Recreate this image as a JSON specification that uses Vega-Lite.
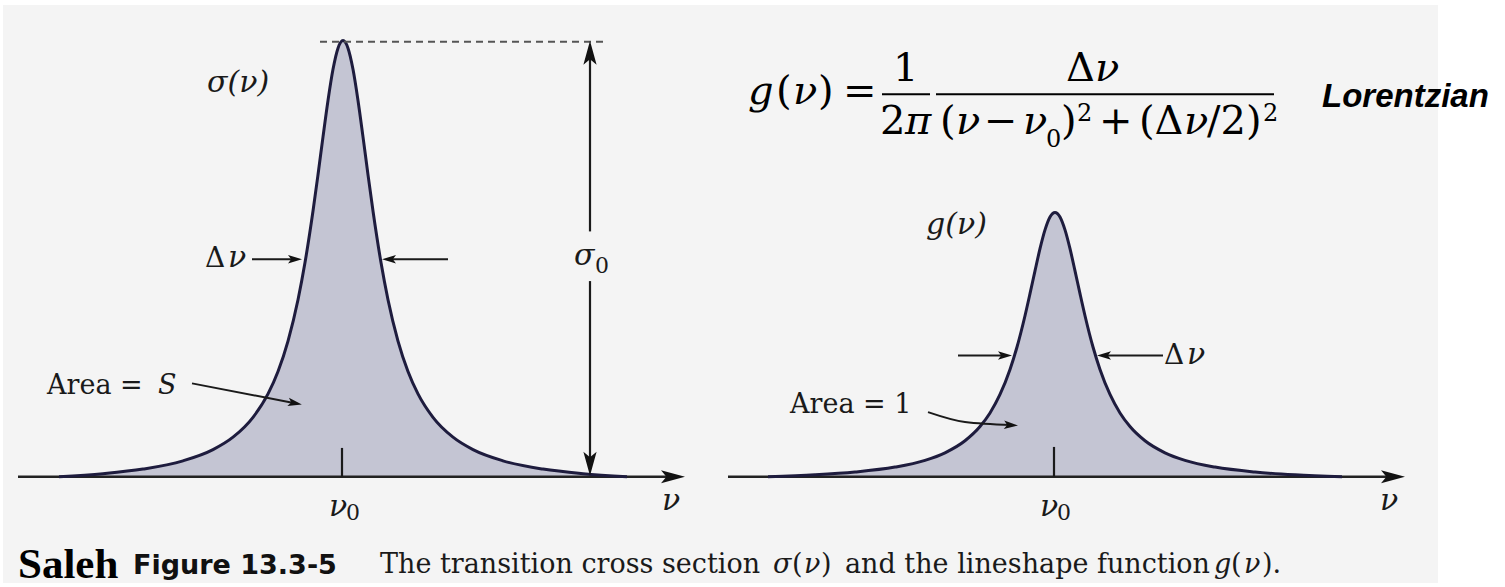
{
  "$schema": "https://vega.github.io/schema/vega-lite/v6.json",
  "width": 1505,
  "height": 587,
  "autosize": {"type": "fit", "contains": "padding"},
  "padding": 0,
  "background": "#ffffff",
  "config": {"view": {"stroke": null}},
  "datasets": {
    "panel": [{"x": 3, "x2": 1438, "y": 475, "y2": -107}],
    "curves": [
      {"curve": "sigma", "x": 59, "y": 0},
      {"curve": "sigma", "x": 103, "y": 3.1},
      {"curve": "sigma", "x": 143, "y": 7.7},
      {"curve": "sigma", "x": 183, "y": 16.0},
      {"curve": "sigma", "x": 213, "y": 27.3},
      {"curve": "sigma", "x": 233, "y": 39.8},
      {"curve": "sigma", "x": 253, "y": 59.8},
      {"curve": "sigma", "x": 268, "y": 83.4},
      {"curve": "sigma", "x": 278, "y": 106.0},
      {"curve": "sigma", "x": 288, "y": 136.6},
      {"curve": "sigma", "x": 298, "y": 178.2},
      {"curve": "sigma", "x": 305, "y": 215.6},
      {"curve": "sigma", "x": 313, "y": 267.5},
      {"curve": "sigma", "x": 318, "y": 304.1},
      {"curve": "sigma", "x": 323, "y": 342.2},
      {"curve": "sigma", "x": 328, "y": 378.9},
      {"curve": "sigma", "x": 333, "y": 410.2},
      {"curve": "sigma", "x": 338, "y": 431.5},
      {"curve": "sigma", "x": 343, "y": 439.1},
      {"curve": "sigma", "x": 348, "y": 431.5},
      {"curve": "sigma", "x": 353, "y": 410.2},
      {"curve": "sigma", "x": 358, "y": 378.9},
      {"curve": "sigma", "x": 363, "y": 342.2},
      {"curve": "sigma", "x": 368, "y": 304.1},
      {"curve": "sigma", "x": 373, "y": 267.5},
      {"curve": "sigma", "x": 381, "y": 215.6},
      {"curve": "sigma", "x": 388, "y": 178.2},
      {"curve": "sigma", "x": 398, "y": 136.6},
      {"curve": "sigma", "x": 408, "y": 106.0},
      {"curve": "sigma", "x": 418, "y": 83.4},
      {"curve": "sigma", "x": 433, "y": 59.8},
      {"curve": "sigma", "x": 453, "y": 39.8},
      {"curve": "sigma", "x": 473, "y": 27.3},
      {"curve": "sigma", "x": 503, "y": 16.0},
      {"curve": "sigma", "x": 543, "y": 7.7},
      {"curve": "sigma", "x": 583, "y": 3.1},
      {"curve": "sigma", "x": 627, "y": 0},
      {"curve": "g", "x": 768, "y": 0},
      {"curve": "g", "x": 815, "y": 1.9},
      {"curve": "g", "x": 855, "y": 4.7},
      {"curve": "g", "x": 895, "y": 9.7},
      {"curve": "g", "x": 925, "y": 16.5},
      {"curve": "g", "x": 945, "y": 24.1},
      {"curve": "g", "x": 965, "y": 36.2},
      {"curve": "g", "x": 980, "y": 50.5},
      {"curve": "g", "x": 990, "y": 64.2},
      {"curve": "g", "x": 1000, "y": 82.8},
      {"curve": "g", "x": 1010, "y": 108.0},
      {"curve": "g", "x": 1017, "y": 130.6},
      {"curve": "g", "x": 1025, "y": 162.1},
      {"curve": "g", "x": 1030, "y": 184.3},
      {"curve": "g", "x": 1035, "y": 207.3},
      {"curve": "g", "x": 1040, "y": 229.6},
      {"curve": "g", "x": 1045, "y": 248.5},
      {"curve": "g", "x": 1050, "y": 261.5},
      {"curve": "g", "x": 1055, "y": 266.0},
      {"curve": "g", "x": 1060, "y": 261.5},
      {"curve": "g", "x": 1065, "y": 248.5},
      {"curve": "g", "x": 1070, "y": 229.6},
      {"curve": "g", "x": 1075, "y": 207.3},
      {"curve": "g", "x": 1080, "y": 184.3},
      {"curve": "g", "x": 1085, "y": 162.1},
      {"curve": "g", "x": 1093, "y": 130.6},
      {"curve": "g", "x": 1100, "y": 108.0},
      {"curve": "g", "x": 1110, "y": 82.8},
      {"curve": "g", "x": 1120, "y": 64.2},
      {"curve": "g", "x": 1130, "y": 50.5},
      {"curve": "g", "x": 1145, "y": 36.2},
      {"curve": "g", "x": 1165, "y": 24.1},
      {"curve": "g", "x": 1185, "y": 16.5},
      {"curve": "g", "x": 1215, "y": 9.7},
      {"curve": "g", "x": 1255, "y": 4.7},
      {"curve": "g", "x": 1295, "y": 1.9},
      {"curve": "g", "x": 1342, "y": 0}
    ],
    "axisLines": [
      {"x": 18, "x2": 676, "y": 0},
      {"x": 728, "x2": 1396, "y": 0}
    ],
    "dimLines": [
      {"x": 342, "y": 0, "y2": 29},
      {"x": 1054, "y": 0, "y2": 30},
      {"x": 590, "y": 424, "y2": 247},
      {"x": 590, "y": 197, "y2": 16}
    ],
    "peakLevel": [{"x": 320, "x2": 607, "y": 438}],
    "widthShafts": [
      {"x": 252, "x2": 296, "y": 219},
      {"x": 388, "x2": 448, "y": 219},
      {"x": 958, "x2": 1006, "y": 122},
      {"x": 1103, "x2": 1163, "y": 122}
    ],
    "fractionBars": [
      {"x": 882, "x2": 930, "y": 385},
      {"x": 936, "x2": 1274, "y": 385}
    ],
    "leaders": [
      {"id": "S", "x": 192, "y": 94},
      {"id": "S", "x": 295, "y": 74},
      {"id": "one", "x": 928, "y": 65},
      {"id": "one", "x": 965, "y": 55},
      {"id": "one", "x": 1011, "y": 52}
    ],
    "bigHeads": [
      {"x": 673, "y": 0, "angle": 0},
      {"x": 1393, "y": 0, "angle": 0},
      {"x": 590, "y": 427, "angle": 270},
      {"x": 590, "y": 13, "angle": 90}
    ],
    "smallHeads": [
      {"x": 295, "y": 219, "angle": 0},
      {"x": 389, "y": 219, "angle": 180},
      {"x": 1005, "y": 122, "angle": 0},
      {"x": 1104, "y": 122, "angle": 180},
      {"x": 295, "y": 74, "angle": 11},
      {"x": 1011, "y": 52, "angle": 3}
    ],
    "labelsItalic": [
      {"x": 207, "y": 387, "t": "σ(ν)"},
      {"x": 228, "y": 211, "t": "ν"},
      {"x": 1187, "y": 113, "t": "ν"},
      {"x": 926, "y": 244, "t": "g(ν)"},
      {"x": 662, "y": -33, "t": "ν"},
      {"x": 1380, "y": -33, "t": "ν"},
      {"x": 329, "y": -40, "t": "ν"},
      {"x": 1040, "y": -40, "t": "ν"},
      {"x": 574, "y": 213, "t": "σ"}
    ],
    "labelsUpright": [
      {"x": 205, "y": 211, "t": "Δ"},
      {"x": 1164, "y": 113, "t": "Δ"}
    ],
    "labelsScript": [
      {"x": 346, "y": -44, "t": "0"},
      {"x": 1057, "y": -44, "t": "0"},
      {"x": 595, "y": 205, "t": "0"}
    ],
    "areaText": [
      {"x": 47, "y": 83, "t": "Area ="},
      {"x": 790, "y": 64, "t": "Area = 1"}
    ],
    "areaItalic": [{"x": 158, "y": 83, "t": "S"}],
    "formulaUpright": [
      {"x": 776, "y": 375, "t": "("},
      {"x": 818, "y": 375, "t": ")"},
      {"x": 843, "y": 375, "t": "="},
      {"x": 893, "y": 398, "t": "1"},
      {"x": 880, "y": 345, "t": "2"},
      {"x": 1066, "y": 398, "t": "Δ"},
      {"x": 940, "y": 345, "t": "("},
      {"x": 984, "y": 345, "t": "−"},
      {"x": 1061, "y": 345, "t": ")"},
      {"x": 1099, "y": 345, "t": "+"},
      {"x": 1139, "y": 345, "t": "(Δ"},
      {"x": 1207, "y": 345, "t": "/2)"}
    ],
    "formulaItalic": [
      {"x": 748, "y": 375, "t": "g"},
      {"x": 793, "y": 375, "t": "ν"},
      {"x": 905, "y": 345, "t": "π"},
      {"x": 1095, "y": 398, "t": "ν"},
      {"x": 956, "y": 345, "t": "ν"},
      {"x": 1023, "y": 345, "t": "ν"},
      {"x": 1184, "y": 345, "t": "ν"}
    ],
    "formulaScript": [
      {"x": 1046, "y": 332, "t": "0"},
      {"x": 1077, "y": 358, "t": "2"},
      {"x": 1263, "y": 358, "t": "2"}
    ],
    "tag": [{"x": 1322, "y": 372, "t": "Lorentzian"}],
    "author": [{"x": 18, "y": -102, "t": "Saleh"}],
    "figNumber": [{"x": 133, "y": -98, "t": "Figure 13.3-5"}],
    "captionUpright": [
      {"x": 380, "y": -97, "t": "The transition cross section"},
      {"x": 792, "y": -97, "t": "("},
      {"x": 821, "y": -97, "t": ")"},
      {"x": 845, "y": -97, "t": "and the lineshape function"},
      {"x": 1231, "y": -97, "t": "("},
      {"x": 1262, "y": -97, "t": ")."}
    ],
    "captionItalic": [
      {"x": 773, "y": -97, "t": "σ"},
      {"x": 804, "y": -97, "t": "ν"},
      {"x": 1214, "y": -97, "t": "g"},
      {"x": 1244, "y": -97, "t": "ν"}
    ]
  },
  "encoding": {
    "x": {"field": "x", "type": "quantitative", "scale": {"domain": [0, 1505], "nice": false, "zero": false}, "axis": null},
    "y": {"field": "y", "type": "quantitative", "scale": {"domain": [-107, 480], "nice": false, "zero": false}, "axis": null}
  },
  "layer": [
    {"data": {"name": "panel"}, "mark": {"type": "rect", "fill": "#f4f4f4"},
     "encoding": {"x2": {"field": "x2"}, "y2": {"field": "y2"}}},
    {"data": {"name": "curves"}, "mark": {"type": "area", "interpolate": "monotone", "fill": "#c4c5d3"},
     "encoding": {"y2": {"datum": 0}, "detail": {"field": "curve"}}},
    {"data": {"name": "axisLines"}, "mark": {"type": "rule", "stroke": "#222222", "strokeWidth": 2.5},
     "encoding": {"x2": {"field": "x2"}}},
    {"data": {"name": "curves"}, "mark": {"type": "line", "interpolate": "monotone", "stroke": "#1e1c3e", "strokeWidth": 3},
     "encoding": {"detail": {"field": "curve"}}},
    {"data": {"name": "dimLines"}, "mark": {"type": "rule", "stroke": "#1a1a1a", "strokeWidth": 2.2},
     "encoding": {"y2": {"field": "y2"}}},
    {"data": {"name": "peakLevel"}, "mark": {"type": "rule", "stroke": "#555555", "strokeWidth": 2, "strokeDash": [7, 5]},
     "encoding": {"x2": {"field": "x2"}}},
    {"data": {"name": "widthShafts"}, "mark": {"type": "rule", "stroke": "#1a1a1a", "strokeWidth": 2},
     "encoding": {"x2": {"field": "x2"}}},
    {"data": {"name": "fractionBars"}, "mark": {"type": "rule", "stroke": "#000000", "strokeWidth": 2},
     "encoding": {"x2": {"field": "x2"}}},
    {"data": {"name": "leaders"}, "mark": {"type": "line", "interpolate": "monotone", "stroke": "#1a1a1a", "strokeWidth": 2},
     "encoding": {"detail": {"field": "id"}}},
    {"data": {"name": "bigHeads"},
     "mark": {"type": "point", "shape": "M1,0L-1,-0.55L-0.55,0L-1,0.55Z", "filled": true, "fill": "#111111", "strokeWidth": 0, "size": 576, "opacity": 1},
     "encoding": {"angle": {"field": "angle", "type": "quantitative", "scale": null}}},
    {"data": {"name": "smallHeads"},
     "mark": {"type": "point", "shape": "M1,0L-1,-0.6L-0.55,0L-1,0.6Z", "filled": true, "fill": "#111111", "strokeWidth": 0, "size": 196, "opacity": 1},
     "encoding": {"angle": {"field": "angle", "type": "quantitative", "scale": null}}},
    {"data": {"name": "labelsItalic"},
     "mark": {"type": "text", "font": "DejaVu Serif", "fontStyle": "italic", "fontSize": 30, "align": "left", "baseline": "alphabetic", "fill": "#1a1a1a"},
     "encoding": {"text": {"field": "t"}}},
    {"data": {"name": "labelsUpright"},
     "mark": {"type": "text", "font": "DejaVu Serif", "fontSize": 28, "align": "left", "baseline": "alphabetic", "fill": "#1a1a1a"},
     "encoding": {"text": {"field": "t"}}},
    {"data": {"name": "labelsScript"},
     "mark": {"type": "text", "font": "DejaVu Serif", "fontSize": 22, "align": "left", "baseline": "alphabetic", "fill": "#1a1a1a"},
     "encoding": {"text": {"field": "t"}}},
    {"data": {"name": "areaText"},
     "mark": {"type": "text", "font": "DejaVu Serif", "fontSize": 27, "align": "left", "baseline": "alphabetic", "fill": "#1a1a1a"},
     "encoding": {"text": {"field": "t"}}},
    {"data": {"name": "areaItalic"},
     "mark": {"type": "text", "font": "DejaVu Serif", "fontStyle": "italic", "fontSize": 27, "align": "left", "baseline": "alphabetic", "fill": "#1a1a1a"},
     "encoding": {"text": {"field": "t"}}},
    {"data": {"name": "formulaUpright"},
     "mark": {"type": "text", "font": "DejaVu Serif", "fontSize": 40, "align": "left", "baseline": "alphabetic", "fill": "#000000"},
     "encoding": {"text": {"field": "t"}}},
    {"data": {"name": "formulaItalic"},
     "mark": {"type": "text", "font": "DejaVu Serif", "fontStyle": "italic", "fontSize": 40, "align": "left", "baseline": "alphabetic", "fill": "#000000"},
     "encoding": {"text": {"field": "t"}}},
    {"data": {"name": "formulaScript"},
     "mark": {"type": "text", "font": "DejaVu Serif", "fontSize": 24, "align": "left", "baseline": "alphabetic", "fill": "#000000"},
     "encoding": {"text": {"field": "t"}}},
    {"data": {"name": "tag"},
     "mark": {"type": "text", "font": "Liberation Sans", "fontStyle": "italic", "fontWeight": "bold", "fontSize": 33, "align": "left", "baseline": "alphabetic", "fill": "#000000"},
     "encoding": {"text": {"field": "t"}}},
    {"data": {"name": "author"},
     "mark": {"type": "text", "font": "Liberation Serif", "fontWeight": "bold", "fontSize": 43, "align": "left", "baseline": "alphabetic", "fill": "#000000"},
     "encoding": {"text": {"field": "t"}}},
    {"data": {"name": "figNumber"},
     "mark": {"type": "text", "font": "DejaVu Sans", "fontWeight": "bold", "fontSize": 27, "align": "left", "baseline": "alphabetic", "fill": "#111111"},
     "encoding": {"text": {"field": "t"}}},
    {"data": {"name": "captionUpright"},
     "mark": {"type": "text", "font": "DejaVu Serif", "fontSize": 27, "align": "left", "baseline": "alphabetic", "fill": "#1a1a1a"},
     "encoding": {"text": {"field": "t"}}},
    {"data": {"name": "captionItalic"},
     "mark": {"type": "text", "font": "DejaVu Serif", "fontStyle": "italic", "fontSize": 27, "align": "left", "baseline": "alphabetic", "fill": "#1a1a1a"},
     "encoding": {"text": {"field": "t"}}}
  ]
}
